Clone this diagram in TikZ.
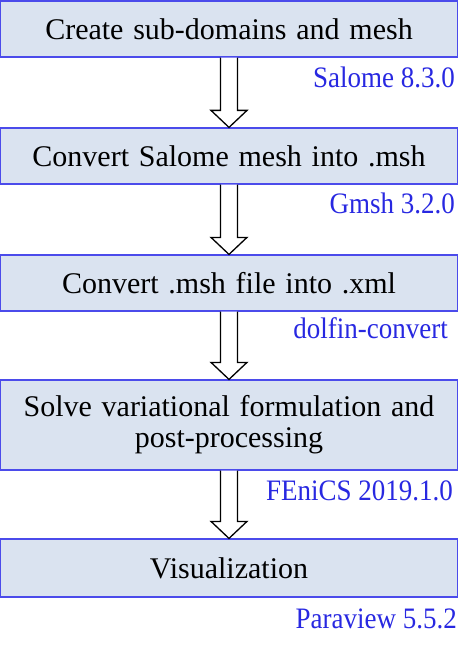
\documentclass[tikz,border=0pt]{standalone}
\usepackage{fontspec}
\setmainfont{Liberation Serif}
\newfontfamily\boxfont[WordSpace=1.3]{Liberation Serif}
\usetikzlibrary{calc}
\definecolor{boxfill}{RGB}{218,227,240}
\definecolor{boxline}{RGB}{75,75,235}
\definecolor{toolblue}{RGB}{40,40,225}
\tikzset{
  stepbox/.style={draw=boxline, line width=1.2pt, fill=boxfill, rectangle,
    minimum width=457pt, inner sep=0pt, align=center,
    font=\boxfont\fontsize{30}{31}\selectfont, text=black},
  toollabel/.style={anchor=base east, inner sep=0pt, text=toolblue,
    font=\fontsize{27}{28}\selectfont},
  blockarr/.style={draw=black, line width=1.3pt, fill=white, line join=miter}
}
\newcommand{\blockarrow}[2]{%
  \draw[blockarr] ($(#1.south)+(-8.5,0)$) -- ($(#2.north)+(-8.5,-17)$)
    -- ($(#2.north)+(-18,-17)$) -- (#2.north) -- ($(#2.north)+(18,-17)$)
    -- ($(#2.north)+(8.5,-17)$) -- ($(#1.south)+(8.5,0)$);}
\newcommand{\tall}[1]{\scalebox{1}[1.1]{#1}}
\begin{document}
\begin{tikzpicture}[x=1pt,y=-1pt]
\useasboundingbox (0,0) rectangle (474,650);
\node[stepbox, minimum height=56pt] (b1) at (229,29) {Create sub-domains and mesh};
\node[stepbox, minimum height=56pt] (b2) at (229,156) {Convert Salome mesh into .msh};
\node[stepbox, minimum height=56pt] (b3) at (229,283) {Convert .msh file into .xml};
\node[stepbox, minimum height=90pt] (b4) at (229,425) {Solve variational formulation and\\post-processing};
\node[stepbox, minimum height=58pt] (b5) at (229,568) {Visualization};
\blockarrow{b1}{b2}
\blockarrow{b2}{b3}
\blockarrow{b3}{b4}
\blockarrow{b4}{b5}
\node[toollabel] (l1) at (455,88) {\tall{Salome 8.3.0}};
\node[toollabel] (l2) at (455,213) {\tall{Gmsh 3.2.0}};
\node[toollabel] (l3) at (448,338) {\tall{dolfin-convert}};
\node[toollabel] (l4) at (453,500) {\tall{FEniCS 2019.1.0}};
\node[toollabel] (l5) at (457,628) {\tall{Paraview 5.5.2}};
\end{tikzpicture}
\end{document}
